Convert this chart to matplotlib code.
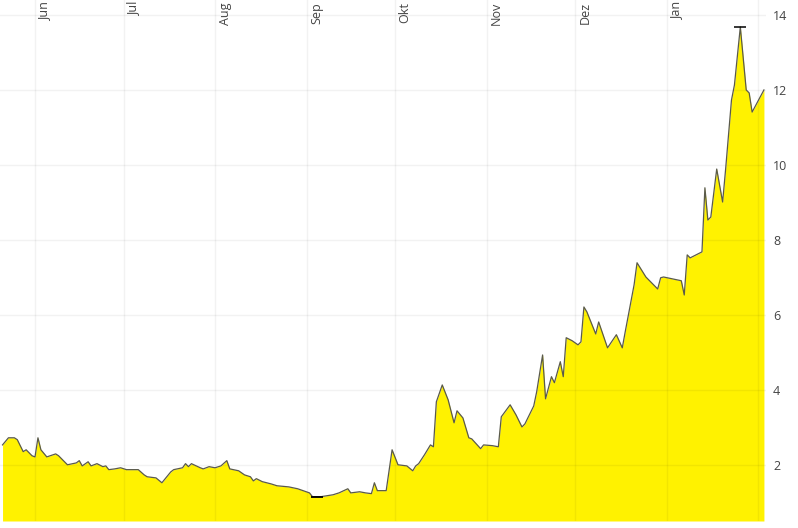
import matplotlib
matplotlib.use("Agg")
import matplotlib.pyplot as plt
import matplotlib.transforms as mtransforms
import numpy as np
import pandas as pd

plt.rcParams["font.family"] = ["Open Sans", "DejaVu Sans"]

# price series
dates = [
    "2020-05-21", "2020-05-23", "2020-05-25", "2020-05-26", "2020-05-28", "2020-05-29",
    "2020-05-31", "2020-06-01", "2020-06-02", "2020-06-03", "2020-06-05", "2020-06-08",
    "2020-06-09", "2020-06-12", "2020-06-15", "2020-06-16", "2020-06-17", "2020-06-19",
    "2020-06-20", "2020-06-22", "2020-06-24", "2020-06-25", "2020-06-26", "2020-06-28",
    "2020-06-30", "2020-07-02", "2020-07-06", "2020-07-08", "2020-07-09", "2020-07-12",
    "2020-07-14", "2020-07-17", "2020-07-18", "2020-07-21", "2020-07-22", "2020-07-23",
    "2020-07-24", "2020-07-27", "2020-07-28", "2020-07-30", "2020-08-01", "2020-08-03",
    "2020-08-05", "2020-08-06", "2020-08-09", "2020-08-11", "2020-08-13", "2020-08-14",
    "2020-08-15", "2020-08-17", "2020-08-20", "2020-08-22", "2020-08-26", "2020-08-29",
    "2020-09-02", "2020-09-03", "2020-09-06", "2020-09-10", "2020-09-12", "2020-09-15",
    "2020-09-16", "2020-09-19", "2020-09-21", "2020-09-23", "2020-09-24", "2020-09-25",
    "2020-09-28", "2020-09-30", "2020-10-02", "2020-10-05", "2020-10-07", "2020-10-08",
    "2020-10-09", "2020-10-11", "2020-10-13", "2020-10-14", "2020-10-15", "2020-10-17",
    "2020-10-19", "2020-10-21", "2020-10-22", "2020-10-24", "2020-10-26", "2020-10-27",
    "2020-10-30", "2020-10-31", "2020-11-03", "2020-11-05", "2020-11-06", "2020-11-09",
    "2020-11-11", "2020-11-13", "2020-11-14", "2020-11-17", "2020-11-18", "2020-11-20",
    "2020-11-21", "2020-11-23", "2020-11-24", "2020-11-26", "2020-11-27", "2020-11-28",
    "2020-11-30", "2020-12-02", "2020-12-03", "2020-12-04", "2020-12-05", "2020-12-08",
    "2020-12-09", "2020-12-12", "2020-12-15", "2020-12-17", "2020-12-18", "2020-12-21",
    "2020-12-22", "2020-12-25", "2020-12-29", "2020-12-30", "2020-12-31", "2021-01-06",
    "2021-01-07", "2021-01-08", "2021-01-09", "2021-01-13", "2021-01-14", "2021-01-15",
    "2021-01-16", "2021-01-18", "2021-01-20", "2021-01-21", "2021-01-23", "2021-01-24",
    "2021-01-26", "2021-01-28", "2021-01-29", "2021-01-30", "2021-02-03",
]
prices = [
    2.53, 2.72, 2.72, 2.67, 2.35, 2.40,
    2.24, 2.21, 2.72, 2.40, 2.21, 2.29,
    2.24, 2.00, 2.05, 2.11, 1.97, 2.08,
    1.97, 2.03, 1.95, 1.97, 1.87, 1.89,
    1.92, 1.87, 1.87, 1.73, 1.68, 1.65,
    1.52, 1.81, 1.87, 1.92, 2.03, 1.95,
    2.03, 1.92, 1.89, 1.95, 1.92, 1.97,
    2.11, 1.89, 1.84, 1.73, 1.68, 1.57,
    1.63, 1.55, 1.49, 1.44, 1.41, 1.36,
    1.25, 1.15, 1.15, 1.20, 1.25, 1.36,
    1.25, 1.28, 1.25, 1.23, 1.52, 1.31,
    1.31, 2.40, 2.00, 1.97, 1.84, 1.97,
    2.03, 2.27, 2.53, 2.48, 3.68, 4.13,
    3.73, 3.12, 3.44, 3.25, 2.72, 2.69,
    2.43, 2.53, 2.51, 2.48, 3.28, 3.60,
    3.33, 3.01, 3.09, 3.57, 3.95, 4.93,
    3.76, 4.35, 4.19, 4.75, 4.35, 5.39,
    5.31, 5.20, 5.28, 6.21, 6.08, 5.49,
    5.81, 5.12, 5.47, 5.12, 5.55, 6.80,
    7.39, 7.01, 6.69, 6.99, 7.01, 6.91,
    6.53, 7.60, 7.52, 7.68, 9.39, 8.53,
    8.61, 9.89, 9.01, 9.87, 11.73, 12.13,
    13.68, 12.00, 11.92, 11.41, 12.00,
]

month_starts = ["2020-06-01", "2020-07-01", "2020-08-01", "2020-09-01", "2020-10-01",
                "2020-11-01", "2020-12-01", "2021-01-01", "2021-02-01"]
month_labels = ["Jun", "Jul", "Aug", "Sep", "Okt", "Nov", "Dez", "Jan"]
y_ticks = [2, 4, 6, 8, 10, 12, 14]

x = pd.to_datetime(dates)
y = np.array(prices)
months = pd.to_datetime(month_starts)

fig = plt.figure(figsize=(7.98, 5.28), dpi=100)
ax = fig.add_axes([0, 7 / 528, 766 / 798, 521 / 528])

ymin, ymax = 0.5, 14.4
ax.fill_between(x, y, ymin, color="#fff200", linewidth=0, zorder=1)
ax.plot(x, y, color="#5a5a4a", linewidth=0.9, zorder=3)

# high / low markers
i_hi, i_lo = int(np.argmax(y)), int(np.argmin(y))
ax.plot([x[i_hi]], [y[i_hi]], marker="_", markersize=9, mew=1.1, color="black", zorder=4)
ax.plot([x[i_lo] + pd.Timedelta(days=1.5)], [y[i_lo]], marker="_", markersize=9,
        mew=1.3, color="black", zorder=4)

# grid
for m in months:
    ax.axvline(m, color="black", alpha=0.05, linewidth=1, zorder=2)
for t in y_ticks:
    ax.axhline(t, color="black", alpha=0.05, linewidth=1, zorder=2)

# month labels at the top
trans = mtransforms.blended_transform_factory(ax.transData, ax.transAxes)
for m, lab in zip(months, month_labels):
    ax.text(m + pd.Timedelta(days=3.4), 0.996, lab, transform=trans, rotation=90,
            ha="center", va="top", fontsize=9, color="#444444")

start = pd.Timestamp("2020-06-01")
ax.set_xlim(start - pd.Timedelta(days=11.86), start + pd.Timedelta(days=247.7))
ax.set_ylim(ymin, ymax)

ax.yaxis.tick_right()
ax.set_yticks(y_ticks)
ax.set_yticklabels([str(t) for t in y_ticks])
ax.tick_params(axis="y", length=0, pad=5, labelsize=9, labelcolor="#444444")
ax.set_xticks([])
for s in ax.spines.values():
    s.set_visible(False)

fig.savefig("out.png", dpi=100)
